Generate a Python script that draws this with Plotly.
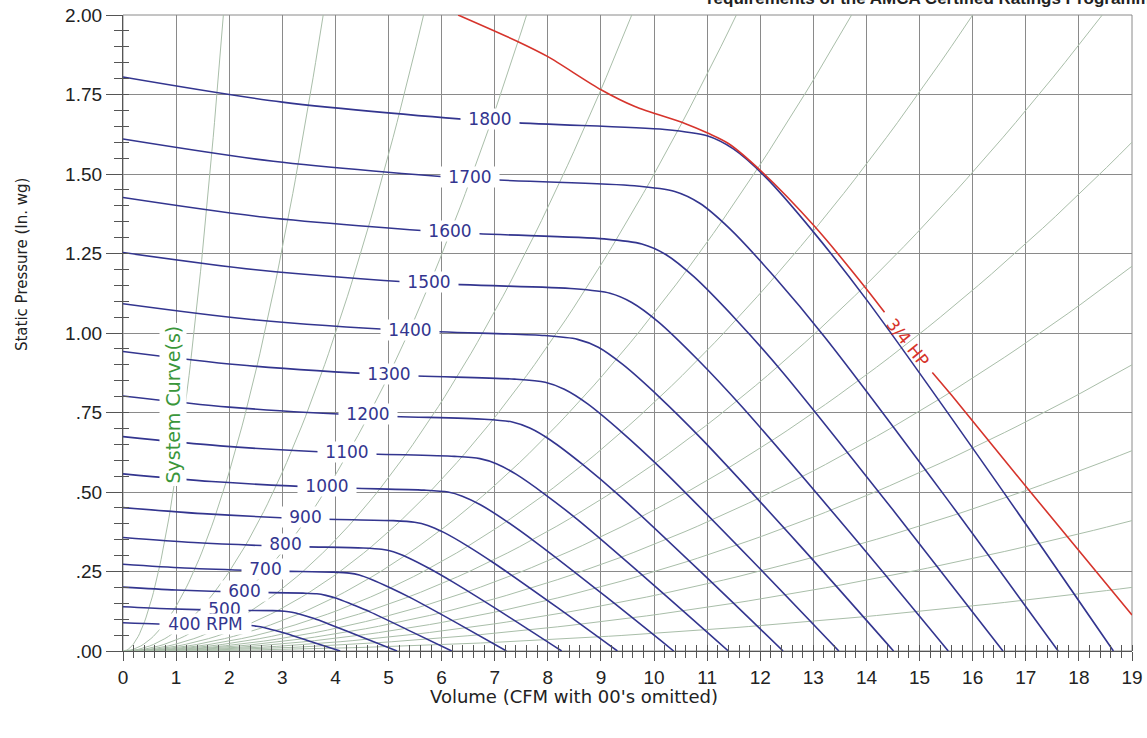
import plotly.graph_objects as go
import numpy as np

# fan curves: volume (CFM / 100) and static pressure (in. wg)
rpm_labels = ["400 RPM", "500", "600", "700", "800", "900", "1000", "1100",
              "1200", "1300", "1400", "1500", "1600", "1700", "1800"]

q400 = [0, 0.66, 1.54, 2.24, 2.41, 2.52, 2.65, 2.85, 3.07, 3.59, 4.09]
p400 = [0.089, 0.085, 0.082, 0.081, 0.080, 0.078, 0.074, 0.065, 0.055, 0.027, 0]
q500 = [0, 0.83, 1.94, 2.82, 3.04, 3.18, 3.35, 3.60, 3.87, 4.53, 5.16]
p500 = [0.139, 0.133, 0.128, 0.127, 0.125, 0.122, 0.115, 0.102, 0.085, 0.042, 0]
q600 = [0, 1.00, 2.32, 3.39, 3.65, 3.82, 4.02, 4.32, 4.65, 5.43, 6.19]
p600 = [0.201, 0.192, 0.185, 0.182, 0.180, 0.175, 0.166, 0.146, 0.123, 0.061, 0]
q700 = [0, 1.16, 2.71, 3.95, 4.26, 4.45, 4.68, 5.03, 5.42, 6.34, 7.22]
p700 = [0.273, 0.261, 0.252, 0.248, 0.245, 0.239, 0.225, 0.199, 0.167, 0.083, 0]
q800 = [0, 1.33, 3.10, 4.52, 4.87, 5.09, 5.36, 5.76, 6.20, 7.25, 8.26]
p800 = [0.357, 0.341, 0.329, 0.324, 0.320, 0.312, 0.294, 0.260, 0.218, 0.109, 0]
q900 = [0, 1.50, 3.49, 5.09, 5.49, 5.74, 6.04, 6.49, 6.99, 8.17, 9.31]
p900 = [0.451, 0.432, 0.416, 0.410, 0.405, 0.395, 0.373, 0.330, 0.276, 0.138, 0]
q1000 = [0, 1.67, 3.89, 5.67, 6.12, 6.39, 6.73, 7.23, 7.78, 9.10, 10.37]
p1000 = [0.557, 0.533, 0.514, 0.506, 0.500, 0.487, 0.460, 0.407, 0.341, 0.170, 0]
q1100 = [0, 1.83, 4.28, 6.24, 6.72, 7.03, 7.40, 7.95, 8.56, 10.01, 11.40]
p1100 = [0.674, 0.645, 0.622, 0.612, 0.605, 0.589, 0.556, 0.492, 0.413, 0.205, 0]
q1200 = [0, 2.00, 4.67, 6.80, 7.33, 7.66, 8.06, 8.66, 9.33, 10.91, 12.43]
p1200 = [0.802, 0.767, 0.740, 0.729, 0.720, 0.701, 0.662, 0.586, 0.491, 0.244, 0]
q1300 = [0, 2.17, 5.06, 7.37, 7.95, 8.31, 8.75, 9.40, 10.12, 11.83, 13.48]
p1300 = [0.942, 0.900, 0.868, 0.855, 0.845, 0.823, 0.777, 0.687, 0.576, 0.287, 0]
q1400 = [0, 2.33, 5.45, 7.94, 8.56, 8.95, 9.41, 10.11, 10.89, 12.74, 14.51]
p1400 = [1.092, 1.044, 1.007, 0.992, 0.980, 0.955, 0.901, 0.797, 0.668, 0.333, 0]
q1500 = [0, 2.50, 5.83, 8.50, 9.17, 9.58, 10.08, 10.83, 11.66, 13.64, 15.54]
p1500 = [1.253, 1.199, 1.156, 1.139, 1.125, 1.096, 1.035, 0.915, 0.767, 0.382, 0]
q1600 = [0, 2.67, 6.22, 9.06, 9.77, 10.22, 10.75, 11.55, 12.44, 14.54, 16.57]
p1600 = [1.426, 1.364, 1.316, 1.296, 1.280, 1.247, 1.177, 1.041, 0.873, 0.435, 0]
q1700 = [0, 2.83, 6.61, 9.63, 10.39, 10.86, 11.42, 12.27, 13.22, 15.46, 17.61]
p1700 = [1.610, 1.540, 1.485, 1.463, 1.445, 1.408, 1.329, 1.176, 0.986, 0.491, 0]
q1800 = [0, 3.00, 7.00, 10.20, 11.00, 11.50, 12.10, 13.00, 14.00, 16.37, 18.65]
p1800 = [1.805, 1.726, 1.665, 1.640, 1.620, 1.578, 1.490, 1.318, 1.105, 0.550, 0]

fan_q = [q400, q500, q600, q700, q800, q900, q1000, q1100,
         q1200, q1300, q1400, q1500, q1600, q1700, q1800]
fan_p = [p400, p500, p600, p700, p800, p900, p1000, p1100,
         p1200, p1300, p1400, p1500, p1600, p1700, p1800]

# 3/4 HP limit line (gap where its label sits)
hp_q = [6.31, 7.44, 8.00, 9.01, 9.64, 10.58, 11.02, 11.40, 12.03, 13.03, 14.04, 14.34,
        None, 15.24, 15.60, 17.05, 19.00]
hp_p = [2.000, 1.916, 1.869, 1.764, 1.712, 1.659, 1.628, 1.596, 1.507, 1.334, 1.130, 1.065,
        None, 0.876, 0.805, 0.508, 0.113]

# system curves: where each leaves the grid (top edge volume / right edge pressure)
sys_top_q = [1.89, 3.77, 5.66, 7.60, 9.58, 11.55, 13.72, 16.00, 18.44]
sys_right_p = [1.60, 1.21, 0.90, 0.63, 0.41, 0.20]

y_ticks = [0, 0.25, 0.5, 0.75, 1.0, 1.25, 1.5, 1.75, 2.0]
y_ticktext = [".00", ".25", ".50", ".75", "1.00", "1.25", "1.50", "1.75", "2.00"]

# label anchor points (data coords)
label_q = [1.55, 1.92, 2.29, 2.69, 3.06, 3.43, 3.84, 4.21, 4.62, 5.00, 5.40, 5.77, 6.15, 6.54, 6.92]
label_p = [0.084, 0.131, 0.190, 0.257, 0.335, 0.420, 0.518, 0.627, 0.745, 0.870, 1.010, 1.160, 1.320, 1.490, 1.672]

BLUE = "#33358f"
RED = "#d6342c"
SYS = "#a9bea9"
GREEN = "#3a963a"
GRID = "#8a8a8a"
AXIS = "#555555"
FONT = "DejaVu Sans"
TICKFONT = "Liberation Sans, Arial"

fig = go.Figure()

# system curves
for qt in sys_top_q:
    q = np.linspace(0, qt, 80)
    fig.add_trace(go.Scatter(x=q, y=2.0 / qt ** 2 * q ** 2, mode="lines",
                             line=dict(color=SYS, width=1), hoverinfo="skip"))
for pr in sys_right_p:
    q = np.linspace(0, 19, 80)
    fig.add_trace(go.Scatter(x=q, y=pr / 19 ** 2 * q ** 2, mode="lines",
                             line=dict(color=SYS, width=1), hoverinfo="skip"))

# fan curves
for q, p in zip(fan_q, fan_p):
    fig.add_trace(go.Scatter(x=q, y=p, mode="lines",
                             line=dict(color=BLUE, width=1.6, shape="spline", smoothing=0.8)))

fig.add_trace(go.Scatter(x=hp_q, y=hp_p, mode="lines",
                         line=dict(color=RED, width=1.6, shape="spline", smoothing=0.8)))

# dummy traces so the overlay axes (inside minor ticks) get drawn
fig.add_trace(go.Scatter(x=[None], y=[None], xaxis="x2", yaxis="y", hoverinfo="skip"))
fig.add_trace(go.Scatter(x=[None], y=[None], xaxis="x", yaxis="y2", hoverinfo="skip"))

# rpm labels with white boxes that break the curves (top one first, so the
# lower, tightly packed labels are never covered by the box above them)
for t, xq, yp in reversed(list(zip(rpm_labels, label_q, label_p))):
    fig.add_annotation(x=xq, y=yp, text=t, showarrow=False, bgcolor="white",
                       borderpad=0, width=11 * len(t) + 14,
                       font=dict(family=FONT, size=17, color=BLUE))

fig.add_annotation(x=0.946, y=0.776, text="System Curve(s)", showarrow=False,
                   textangle=-90, bgcolor="white", borderpad=2,
                   font=dict(family=FONT, size=19, color=GREEN))

fig.add_annotation(x=14.79, y=0.97, text="3/4 HP", showarrow=False, textangle=51,
                   font=dict(family=FONT, size=17, color=RED))

# axis titles
fig.add_annotation(xref="paper", yref="paper", x=0.447, y=-0.0708,
                   xanchor="center", yanchor="middle",
                   text="Volume (CFM with 00's omitted)", showarrow=False,
                   font=dict(family=FONT, size=18, color="#222"))
fig.add_annotation(xref="paper", yref="paper", x=-0.100, y=0.607,
                   xanchor="center", yanchor="middle",
                   text="Static Pressure (In. wg)", showarrow=False, textangle=-90,
                   font=dict(family=FONT, size=15, color="#222"))

# cut-off heading at the very top
fig.add_annotation(xref="paper", yref="paper", x=0.577, y=1.0267, xanchor="left",
                   yanchor="middle", showarrow=False,
                   text="<b>requirements of the AMCA Certified Ratings Programme</b>",
                   font=dict(family="Liberation Sans", size=17, color="#222"))

fig.update_layout(
    width=1147, height=738,
    margin=dict(l=123, r=15, t=15, b=87, autoexpand=False),
    plot_bgcolor="white", paper_bgcolor="white",
    showlegend=False,
    xaxis=dict(range=[0, 19], tickmode="linear", tick0=0, dtick=1,
               showgrid=True, gridcolor=GRID, gridwidth=1, zeroline=False,
               showline=True, linecolor=AXIS, linewidth=1.2,
               ticks="outside", ticklen=9, tickcolor=AXIS,
               tickfont=dict(family=TICKFONT, size=19, color="#222"),
               minor=dict(tickmode="linear", tick0=0, dtick=0.2, ticks="outside",
                          ticklen=6, tickcolor=AXIS, showgrid=False)),
    yaxis=dict(range=[0, 2], tickmode="array", tickvals=y_ticks, ticktext=y_ticktext,
               showgrid=True, gridcolor=GRID, gridwidth=1, zeroline=False,
               showline=True, linecolor=AXIS, linewidth=1.2,
               ticks="outside", ticklen=16, tickcolor=AXIS,
               tickfont=dict(family=TICKFONT, size=19, color="#222"),
               minor=dict(tickmode="linear", tick0=0, dtick=0.05, ticks="outside",
                          ticklen=8, tickcolor=AXIS, showgrid=False)),
    xaxis2=dict(overlaying="x", anchor="y", side="bottom", range=[0, 19],
                showgrid=False, zeroline=False, showticklabels=False, ticks="",
                showline=False,
                minor=dict(tickmode="linear", tick0=0, dtick=0.2, ticks="inside",
                           ticklen=6, tickcolor=AXIS, showgrid=False)),
    yaxis2=dict(overlaying="y", anchor="x", side="left", range=[0, 2],
                showgrid=False, zeroline=False, showticklabels=False, ticks="",
                showline=False,
                minor=dict(tickmode="linear", tick0=0, dtick=0.05, ticks="inside",
                           ticklen=6, tickcolor=AXIS, showgrid=False)),
)

# light frame along top and right edges
fig.add_shape(type="rect", xref="paper", yref="paper", x0=0, y0=0, x1=1, y1=1,
              line=dict(color=GRID, width=1), layer="below")

# pin the chart to the page corner (no default body margin)
pin = ("var d=document.getElementById('{plot_id}');"
       "document.body.style.margin='0px';document.body.style.overflow='hidden';"
       "d.style.position='absolute';d.style.left='0px';d.style.top='0px';")
fig.write_html("out.html", post_script=pin, config={"displayModeBar": False})
